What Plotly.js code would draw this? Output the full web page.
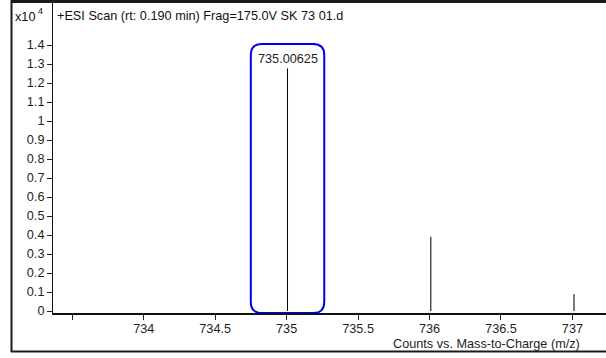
<!DOCTYPE html>
<html>
<head>
<meta charset="utf-8">
<script src="https://cdn.plot.ly/plotly-3.0.1.min.js"></script>
<style>
  html, body { margin: 0; padding: 0; background: #fff; }
  #chart { width: 606px; height: 358px; }
</style>
</head>
<body>
<div id="chart"></div>
<script>
// Centroided peaks of the MS scan (m/z, counts in units of 10^4)
const peakMz = [735.00625, 736.0085, 737.011];
const peakCounts = [1.277, 0.391, 0.089];

// Axis ticks
const xTickValues = [734, 734.5, 735, 735.5, 736, 736.5, 737];
const xTickLabels = ['734', '734.5', '735', '735.5', '736', '736.5', '737'];
const xUnlabelledTicks = [733.5];
const yTickValues = [0, 0.1, 0.2, 0.3, 0.4, 0.5, 0.6, 0.7, 0.8, 0.9, 1, 1.1, 1.2, 1.3, 1.4];
const yTickLabels = ['0', '0.1', '0.2', '0.3', '0.4', '0.5', '0.6', '0.7', '0.8', '0.9', '1', '1.1', '1.2', '1.3', '1.4'];

const scanTitle = '+ESI Scan (rt: 0.190 min) Frag=175.0V SK 73 01.d';
const xTitle = 'Counts vs. Mass-to-Charge (m/z)';
const yScaleBase = 'x10';
const yScaleExp = '4';

// Geometry of the plot window in pixels
const W = 606, H = 358;
const M = { l: 53, r: 0, t: 3, b: 45 };
const plotW = W - M.l - M.r, plotH = H - M.t - M.b;
const px = x => (x - M.l) / plotW;           // pixel -> paper x
const py = y => (H - M.b - y) / plotH;       // pixel -> paper y

const FONT = 'Liberation Sans, Arial, sans-serif';
const FS = 12.7;
const INK = '#1e1e1e';

// One vertical stick per peak
const traces = peakMz.map((m, i) => ({
  type: 'scatter',
  mode: 'lines',
  x: [m, m],
  y: [0, peakCounts[i]],
  line: { color: i === 0 ? '#000000' : '#444444', width: i === 0 ? 1 : 1.4 },
  hoverinfo: 'x+y',
  showlegend: false
}));

// Rounded highlight box around the labelled peak
const cx = peakMz[0];
const hw = 0.257, rx = 0.077, ry = 0.058;
const bx0 = cx - hw, bx1 = cx + hw, by0 = -0.0105, by1 = 1.405;
const boxPath =
  `M ${bx0 + rx},${by1} L ${bx1 - rx},${by1} Q ${bx1},${by1} ${bx1},${by1 - ry} ` +
  `L ${bx1},${by0 + ry} Q ${bx1},${by0} ${bx1 - rx},${by0} ` +
  `L ${bx0 + rx},${by0} Q ${bx0},${by0} ${bx0},${by0 + ry} ` +
  `L ${bx0},${by1 - ry} Q ${bx0},${by1} ${bx0 + rx},${by1} Z`;

const frameColor = '#1a1a1a';

const layout = {
  width: W,
  height: H,
  margin: M,
  paper_bgcolor: '#ffffff',
  plot_bgcolor: '#ffffff',
  font: { family: FONT, size: FS, color: INK },
  xaxis: {
    range: [733.365, 737.235],
    tickmode: 'array',
    tickvals: xTickValues,
    ticktext: xTickLabels,
    ticks: 'outside',
    ticklen: 5,
    tickwidth: 1,
    tickcolor: '#222',
    ticklabelstandoff: -2,
    minor: { tickmode: 'array', tickvals: xUnlabelledTicks, ticks: 'outside',
             ticklen: 5, tickwidth: 1, tickcolor: '#222', showgrid: false },
    showline: true,
    linecolor: '#111',
    linewidth: 2,
    showgrid: false,
    zeroline: false,
    tickfont: { family: FONT, size: FS, color: INK },
    fixedrange: true
  },
  yaxis: {
    range: [-0.0105, 1.6211],
    tickmode: 'array',
    tickvals: yTickValues,
    ticktext: yTickLabels,
    ticks: 'outside',
    ticklen: 5,
    tickwidth: 1,
    tickcolor: '#222',
    showline: true,
    linecolor: '#111',
    linewidth: 1,
    showgrid: false,
    zeroline: false,
    tickfont: { family: FONT, size: FS, color: INK },
    fixedrange: true
  },
  shapes: [
    { type: 'path', xref: 'x', yref: 'y', path: boxPath,
      line: { color: '#0000f0', width: 2 }, fillcolor: 'rgba(0,0,0,0)' },
    // outer frame
    { type: 'line', xref: 'paper', yref: 'paper', x0: px(11), x1: px(W + 2), y0: py(1.5), y1: py(1.5),
      line: { color: frameColor, width: 3 } },
    { type: 'line', xref: 'paper', yref: 'paper', x0: px(11.5), x1: px(11.5), y0: py(0), y1: py(352),
      line: { color: frameColor, width: 2 } },
    { type: 'line', xref: 'paper', yref: 'paper', x0: px(11), x1: px(W + 2), y0: py(351.5), y1: py(351.5),
      line: { color: frameColor, width: 2 } }
  ],
  annotations: [
    { xref: 'x', yref: 'y', x: peakMz[0], y: peakCounts[0], text: peakMz[0].toFixed(5),
      showarrow: false, xanchor: 'center', yanchor: 'bottom', yshift: 0,
      font: { family: FONT, size: FS, color: INK } },
    { xref: 'paper', yref: 'paper', x: px(55), y: py(16), text: scanTitle,
      showarrow: false, xanchor: 'left', yanchor: 'middle',
      font: { family: FONT, size: FS, color: '#111' } },
    { xref: 'paper', yref: 'paper', x: px(13), y: py(17.5), text: yScaleBase,
      showarrow: false, xanchor: 'left', yanchor: 'middle',
      font: { family: FONT, size: FS, color: '#111' } },
    { xref: 'paper', yref: 'paper', x: px(35.5), y: py(11), text: yScaleExp,
      showarrow: false, xanchor: 'left', yanchor: 'middle',
      font: { family: FONT, size: 9, color: '#111' } },
    { xref: 'paper', yref: 'paper', x: px(581), y: py(343.5), text: xTitle,
      showarrow: false, xanchor: 'right', yanchor: 'middle', borderpad: 0,
      font: { family: FONT, size: FS, color: INK } }
  ]
};

Plotly.newPlot('chart', traces, layout, { displayModeBar: false, staticPlot: true });
</script>
</body>
</html>
